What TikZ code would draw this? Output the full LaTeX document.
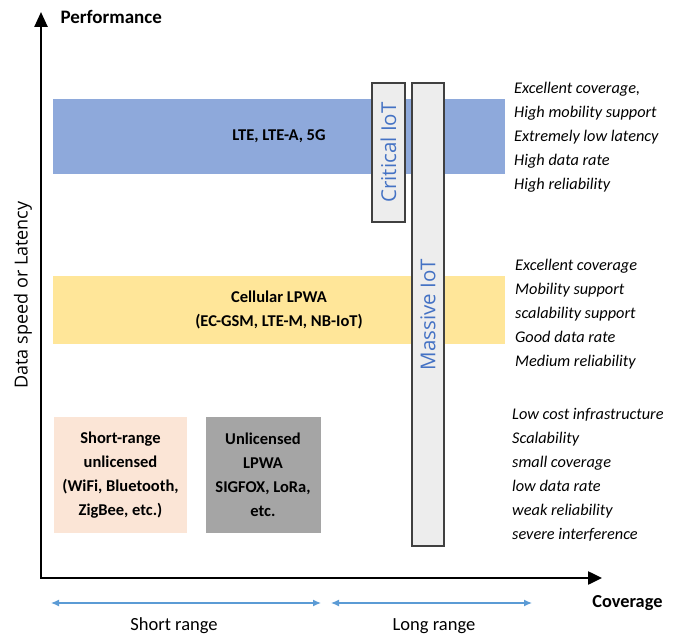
\documentclass[tikz,border=0pt]{standalone}
\usepackage{fontspec}
\setmainfont{Carlito}
\newfontfamily\axisfont{Open Sans}
\usetikzlibrary{arrows.meta}
\definecolor{ltecol}{HTML}{8EA9DB}
\definecolor{lpwacol}{HTML}{FFE699}
\definecolor{shortcol}{HTML}{FBE5D6}
\definecolor{unlicol}{HTML}{A5A5A5}
\definecolor{iotfill}{HTML}{EDEDED}
\definecolor{iottext}{HTML}{4472C4}
\definecolor{rangecol}{HTML}{5B9BD5}
\begin{document}
\begin{tikzpicture}[x=1pt,y=-1pt,
    band/.style={inner sep=0pt,align=center,font=\fontsize{16.5}{24}\selectfont\bfseries},
    iot/.style={draw=black!75,line width=1.2pt,fill=iotfill,inner sep=0pt,rotate=90,
      text=iottext,font=\axisfont\fontsize{20.5}{22}\selectfont},
    props/.style={anchor=west,align=left,inner sep=0pt,font=\fontsize{16.3}{24}\selectfont\itshape},
    rangearrow/.style={rangecol,line width=1.3pt,{Latex[length=8pt,width=7pt]}-{Latex[length=8pt,width=7pt]}}]
\useasboundingbox (0,0) rectangle (678,639);
% bands
\node[band,fill=ltecol,minimum width=452,minimum height=75] (lte) at (279,136.5) {LTE, LTE-A, 5G};
\node[band,fill=lpwacol,minimum width=452,minimum height=68] (cell) at (279,310) {Cellular LPWA\\(EC-GSM, LTE-M, NB-IoT)};
\node[band,fill=shortcol,minimum width=133,minimum height=116] (srt) at (120.5,475) {Short-range\\unlicensed\\(WiFi, Bluetooth,\\ZigBee, etc.)};
\node[band,fill=unlicol,minimum width=115,minimum height=116] (unl) at (263,475) {Unlicensed\\LPWA\\SIGFOX, LoRa,\\etc.};
% IoT boxes
\node[iot,minimum width=139,minimum height=33] (crit) at (388.5,152.5) {Critical IoT};
\node[iot,minimum width=463,minimum height=32] (mass) at (428,314.5) {Massive IoT};
% properties
\node[props] (p1) at (514,137) {Excellent coverage,\\High mobility support\\Extremely low latency\\High data rate\\High reliability};
\node[props] (p2) at (515,314.5) {Excellent coverage\\Mobility support\\scalability support\\Good data rate\\Medium reliability};
\node[props] (p3) at (512,474.5) {Low cost infrastructure\\Scalability\\small coverage\\low data rate\\weak reliability\\severe interference};
% axes
\coordinate (ytip) at (41,12);
\coordinate (orig) at (41,578);
\coordinate (xtip) at (602,578);
\draw[line width=2.5pt,{Triangle[length=15pt,width=13pt]}-{Triangle[length=14pt,width=13pt]}] (ytip) -- (orig) -- (xtip);
\node[anchor=west,font=\fontsize{19}{20}\selectfont\bfseries] (perf) at (57,17) {Performance};
\node[rotate=90,font=\axisfont\fontsize{18}{20}\selectfont] (ylab) at (23,295) {Data speed or Latency};
\node[anchor=east,font=\fontsize{18.3}{20}\selectfont\bfseries] (cov) at (666,603) {Coverage};
% ranges
\coordinate (s1) at (51,603);
\coordinate (s2) at (321,603);
\coordinate (l1) at (331,603);
\coordinate (l2) at (532,603);
\draw[rangearrow] (s1) -- (s2);
\draw[rangearrow] (l1) -- (l2);
\node[font=\fontsize{18.5}{20}\selectfont] (sr) at (174,626) {Short range};
\node[font=\fontsize{18.5}{20}\selectfont] (lr) at (434,626) {Long range};
\end{tikzpicture}
\end{document}
